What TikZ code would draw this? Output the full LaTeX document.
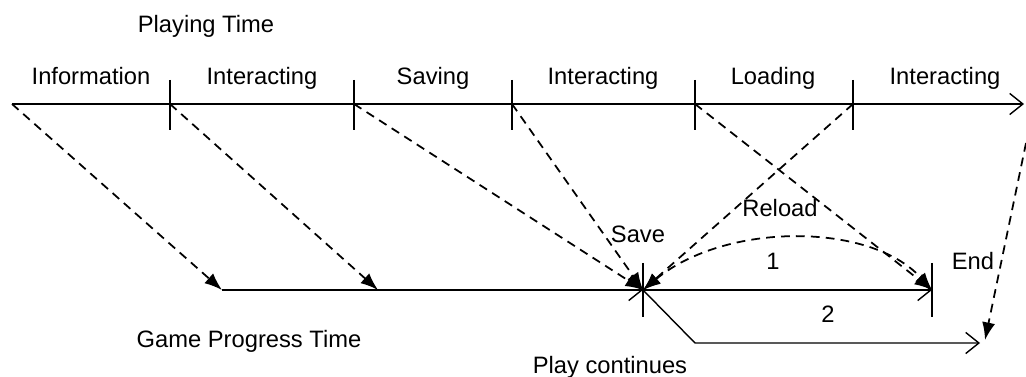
\documentclass[tikz,border=0pt]{standalone}
\usepackage{fontspec}
\setmainfont{Liberation Sans}
\usetikzlibrary{arrows.meta}

\begin{document}
\begin{tikzpicture}[x=0.02cm, y=-0.02cm, line width=0.8pt,
  font=\fontsize{13.5}{16}\selectfont,
  hd/.tip={Latex[length=10pt,width=7.5pt]},
  axis/.style={-{Straight Barb[length=7.5pt,width=12pt]}},
  link/.style={line width=1pt, dash pattern=on 5pt off 3.5pt, -hd},
  lbl/.style={anchor=base, inner sep=0pt}]
\useasboundingbox (0,0) rectangle (1026,377);
% Playing time axis
\node[lbl] (play) at (206,33) {Playing Time};
\coordinate (t0) at (12,104);
\coordinate (tend) at (1024,104);
\draw[axis] (t0) -- (tend);
\foreach \n/\x in {1/170,2/354,3/512,4/695,5/853}{ \coordinate (t\n) at (\x,104); \draw (\x,80) -- (\x,130); }
\foreach \x/\t [count=\i] in {91/Information,262/Interacting,433/Saving,603/Interacting,773/Loading,945/Interacting}{ \node[lbl] (seg\i) at (\x,85) {\t}; }
% Game progress axis
\coordinate (g0) at (222,290);
\coordinate (g1) at (378,290);
\coordinate (save) at (643,290);
\coordinate (end) at (932,290);
\coordinate (bend) at (695,343);
\coordinate (cont) at (980,343);
\draw[axis] (g0) -- (save);
\draw[axis] (save) -- (end);
\draw[axis] (save) -- (bend) -- (cont);
\draw (643,263) -- (643,317);
\draw (932,263) -- (932,317);
% Mappings between the two times
\draw[link] (t0) -- (g0);
\draw[link] (t1) -- (g1);
\draw[link] (t2) -- (save);
\draw[link] (t3) -- (save);
\draw[link] (t4) -- (end);
\draw[link] (t5) -- (save);
\draw[link, hd-hd] (save) .. controls (725,222) and (870,222) .. (end);
\coordinate (edge) at (1026,143);
\coordinate (stop) at (985,340);
\draw[link] (edge) -- (stop);
% Labels
\node[lbl] (savel) at (638,243) {Save};
\node[lbl] (reload) at (780,217) {Reload};
\node[lbl] (one) at (773,270) {1};
\node[lbl] (two) at (828,323) {2};
\node[lbl] (endl) at (973,270) {End};
\node[lbl] (game) at (249,348) {Game Progress Time};
\node[lbl] (contl) at (610,374) {Play continues};
\end{tikzpicture}
\end{document}
